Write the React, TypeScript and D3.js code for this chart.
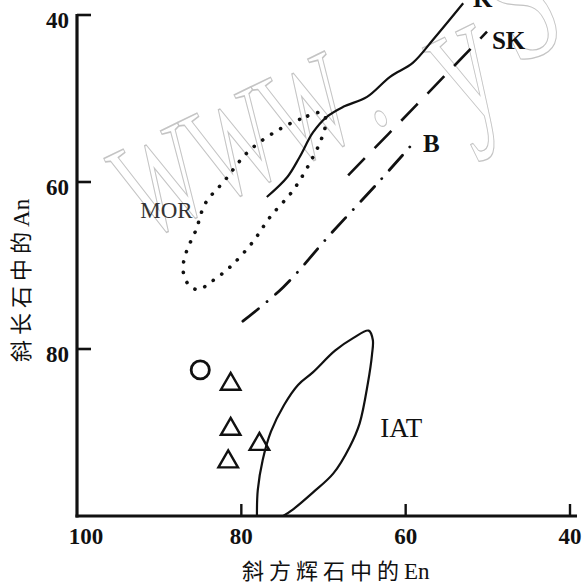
import * as d3 from "d3";
import React from "react";

// axis ticks
const EN_TICKS = [100, 80, 60, 40];
const AN_TICKS = [40, 60, 80];

// K trend (solid)
const K_EN = [76.9, 74.4, 72.9, 71.3, 69.6, 67.6, 64.7, 61.9, 59.1, 56.7, 53.0];
const K_AN = [61.8, 59.4, 57.0, 54.1, 52.2, 51.0, 49.8, 47.4, 45.7, 43.0, 38.6];

// SK trend (dashed)
const SK_EN = [67.0, 58.7, 50.1];
const SK_AN = [59.2, 50.8, 42.0];

// B trend (dash-dot)
const B_EN = [59.5, 63.1, 69.2, 74.9, 80.5];
const B_AN = [55.8, 59.8, 66.3, 72.6, 77.2];

// MOR field (dotted closed loop)
const MOR_EN = [70.2, 72.9, 75.9, 79.2, 82.0, 84.4, 85.5, 86.7, 87.1, 86.5, 85.3, 83.6, 81.4, 78.7, 76.5, 73.7, 71.6, 70.2, 69.7];
const MOR_AN = [51.7, 52.5, 54.0, 56.4, 59.8, 62.6, 65.7, 68.4, 70.5, 72.2, 72.9, 71.9, 70.2, 67.3, 64.2, 61.0, 57.6, 54.7, 52.6];

// IAT field (solid, open at the En axis)
const IAT_EN = [78.1, 78.0, 77.4, 76.4, 74.8, 73.1, 71.3, 68.6, 66.4, 64.5, 64.0, 64.1, 64.6, 65.6, 66.8, 68.8, 71.3, 73.7, 74.9];
const IAT_AN = [100, 96.9, 93.3, 89.9, 86.7, 84.3, 82.8, 80.2, 78.7, 77.8, 78.9, 80.7, 84.1, 88.9, 91.7, 94.9, 97.2, 99.2, 100];

// sample points
const CIRCLE_EN = [85.0];
const CIRCLE_AN = [82.5];
const TRI_EN = [81.3, 81.3, 81.6, 77.8];
const TRI_AN = [84.2, 89.6, 93.5, 91.4];

// field labels
const LABELS = ["K", "SK", "B", "MOR", "IAT"];
const LABEL_EN = [51.8, 49.5, 57.9, 92.3, 63.1];
const LABEL_AN = [39.0, 44.1, 56.4, 64.3, 90.5];

const SERIF = "'Liberation Serif', 'Times New Roman', 'Noto Sans CJK SC', serif";

export default function App() {
  const width = 582;
  const height = 584;

  const x = d3.scaleLinear().domain([100, 40]).range([77, 570]);
  const y = d3.scaleLinear().domain([40, 100]).range([15, 516]);

  const zip = (en: number[], an: number[]) => en.map((e, i) => [e, an[i]] as [number, number]);

  const line = d3
    .line<[number, number]>()
    .x((d) => x(d[0]))
    .y((d) => y(d[1]))
    .curve(d3.curveCatmullRom.alpha(0.5));

  const loop = d3
    .line<[number, number]>()
    .x((d) => x(d[0]))
    .y((d) => y(d[1]))
    .curve(d3.curveCatmullRomClosed.alpha(0.5));

  const tri = d3.symbol(d3.symbolTriangle, 165)();
  const circ = d3.symbol(d3.symbolCircle, 260)();

  const x0 = x(100);
  const y0 = y(100);

  const labelStyle = (t: string) => {
    if (t === "MOR") return { size: 23, weight: 400, fill: "#333" };
    if (t === "IAT") return { size: 27, weight: 400, fill: "#111" };
    return { size: 25, weight: 700, fill: "#111" };
  };

  return (
    <svg
      width={width}
      height={height}
      style={{ position: "absolute", left: 0, top: 0, background: "#fff" }}
      fontFamily={SERIF}
    >
      {/* watermark */}
      <text
        transform="translate(144,241) rotate(-26) scale(0.62,1)"
        fontSize={140}
        fill="none"
        stroke="#c4c4c4"
        strokeWidth={1.3}
        vectorEffect="non-scaling-stroke"
        fontFamily={SERIF}
      >
        WWW
        <tspan dx={16}>.</tspan>
        <tspan dx={90} dy={36} fontSize={190}>y</tspan>
        <tspan dx={30} dy={-30} fontSize={180}>S</tspan>
      </text>

      {/* fields and trends */}
      <path d={loop(zip(MOR_EN, MOR_AN)) ?? ""} fill="none" stroke="#111" strokeWidth={3.6} strokeLinecap="round" strokeDasharray="0.1 10.5" />
      <path d={line(zip(K_EN, K_AN)) ?? ""} fill="none" stroke="#111" strokeWidth={2.2} />
      <path d={line(zip(SK_EN, SK_AN)) ?? ""} fill="none" stroke="#111" strokeWidth={2.6} strokeDasharray="24 14" />
      <path d={line(zip(B_EN, B_AN)) ?? ""} fill="none" stroke="#111" strokeWidth={2.8} strokeLinecap="round" strokeDasharray="0.1 11 20 11" />
      <path d={line(zip(IAT_EN, IAT_AN)) ?? ""} fill="none" stroke="#111" strokeWidth={2.2} />

      {/* samples */}
      {zip(CIRCLE_EN, CIRCLE_AN).map((d, i) => (
        <path key={`c${i}`} d={circ ?? ""} transform={`translate(${x(d[0])},${y(d[1])})`} fill="none" stroke="#111" strokeWidth={2.8} />
      ))}
      {zip(TRI_EN, TRI_AN).map((d, i) => (
        <path key={`t${i}`} d={tri ?? ""} transform={`translate(${x(d[0])},${y(d[1])})`} fill="none" stroke="#111" strokeWidth={2.4} strokeLinejoin="miter" />
      ))}

      {/* labels */}
      {LABELS.map((t, i) => {
        const s = labelStyle(t);
        return (
          <text key={t} x={x(LABEL_EN[i])} y={y(LABEL_AN[i])} fontSize={s.size} fontWeight={s.weight} fill={s.fill}>
            {t}
          </text>
        );
      })}

      {/* axes */}
      <line x1={x0} x2={x0} y1={y(40) - 1} y2={y0 + 1.5} stroke="#111" strokeWidth={3.2} />
      <line x1={x0 - 1.5} x2={x(40) + 7} y1={y0} y2={y0} stroke="#111" strokeWidth={3.2} />
      {AN_TICKS.map((t) => (
        <g key={`ya${t}`}>
          <line x1={x0} x2={x0 + 14} y1={y(t)} y2={y(t)} stroke="#111" strokeWidth={2.6} />
          <text x={x0 - 8} y={y(t) + 13} textAnchor="end" fontSize={23} fontWeight={700} fill="#111">
            {t}
          </text>
        </g>
      ))}
      {EN_TICKS.map((t) => (
        <g key={`xa${t}`}>
          {t !== 100 && <line x1={x(t)} x2={x(t)} y1={y0} y2={y0 - 12} stroke="#111" strokeWidth={2.4} />}
          <text x={x(t) + (t === 100 ? 9 : 0)} y={y0 + 28} textAnchor="middle" fontSize={23} fontWeight={700} fill="#111">
            {t}
          </text>
        </g>
      ))}

      {/* axis titles */}
      <text x={242} y={579} fontSize={22} fill="#111">
        <tspan letterSpacing={5}>斜方辉石中的</tspan>
        <tspan fontSize={23}>En</tspan>
      </text>
      <text transform={`translate(29,362) rotate(-90)`} fontSize={22} fill="#111">
        <tspan letterSpacing={5}>斜长石中的</tspan>
        <tspan fontSize={23}>An</tspan>
      </text>
    </svg>
  );
}
